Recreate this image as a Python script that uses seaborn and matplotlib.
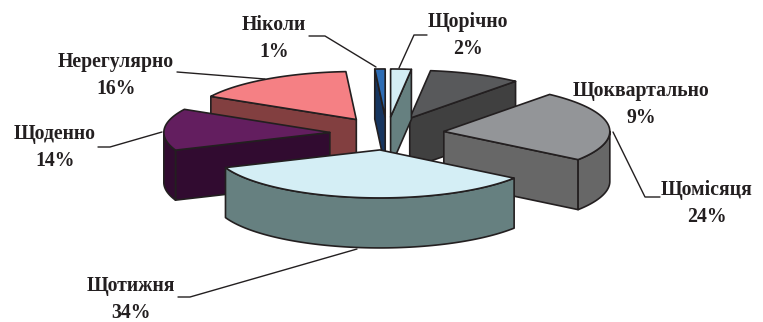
import numpy as np
import pandas as pd
import matplotlib
matplotlib.use("Agg")
import matplotlib.pyplot as plt
from matplotlib.patches import Polygon
import seaborn as sns

# Survey shares, clockwise from twelve o'clock
categories = ["Щорічно", "Щоквартально", "Щомісяця", "Щотижня", "Щоденно", "Нерегулярно", "Ніколи"]
shares = [2, 9, 24, 34, 14, 16, 1]
top_colors = ["#D4EEF5", "#58595B", "#939598", "#D4EEF5", "#631E5F", "#F58084", "#2E6DB5"]
wall_colors = ["#668080", "#404040", "#676767", "#668080", "#310B30", "#823F40", "#16355F"]

# Slices are painted back to front
paint_order = ["Нерегулярно", "Щоквартально", "Ніколи", "Щорічно", "Щоденно", "Щомісяця", "Щотижня"]

# Pie projection, in pixels of the canvas
CX, CY = 387, 133.5
RX, RY = 166, 48
DEPTH = 50
EXPLODE = 0.345
EDGE = "#231F20"

sns.set_theme(style="white")
plt.rcParams["font.family"] = ["Liberation Serif", "DejaVu Serif"]

df = pd.DataFrame({"category": categories, "share": shares,
                   "top": sns.color_palette(top_colors), "wall": sns.color_palette(wall_colors)})
df["end"] = df["share"].cumsum() / df["share"].sum() * 360
df["start"] = df["end"] - df["share"] / df["share"].sum() * 360

fig, ax = plt.subplots(figsize=(7.63, 3.22), dpi=100)
fig.subplots_adjust(0, 0, 1, 1)
ax.set_xlim(0, 763)
ax.set_ylim(322, 0)
ax.axis("off")


def rim(ox, oy, theta):
    t = np.radians(theta)
    return np.column_stack([ox + RX * np.sin(t), oy - RY * np.cos(t)])


def face(points, color, z):
    ax.add_patch(Polygon(points, closed=True, facecolor=color, edgecolor=EDGE,
                         linewidth=1.2, joinstyle="round", zorder=z))


for z, name in enumerate(paint_order):
    row = df[df["category"] == name].iloc[0]
    mid = np.radians((row["start"] + row["end"]) / 2)
    ox = CX + EXPLODE * RX * np.sin(mid)
    oy = CY - EXPLODE * RY * np.cos(mid)
    apex = np.array([[ox, oy]])
    drop = np.array([0, DEPTH])
    base = z * 10 + 2

    # Radial cut faces turned toward the viewer
    if np.sin(np.radians(row["end"])) > 1e-6:
        edge = rim(ox, oy, np.array([row["end"]]))
        face(np.vstack([apex, edge, edge + drop, apex + drop]), row["wall"], base)
    if -np.sin(np.radians(row["start"])) > 1e-6:
        edge = rim(ox, oy, np.array([row["start"]]))
        face(np.vstack([apex, edge, edge + drop, apex + drop]), row["wall"], base)

    # Outer wall along the front half of the rim
    lo, hi = max(row["start"], 90), min(row["end"], 270)
    if hi > lo:
        arc = rim(ox, oy, np.linspace(lo, hi, 80))
        face(np.vstack([arc, (arc + drop)[::-1]]), row["wall"], base + 1)

    # Top surface
    arc = rim(ox, oy, np.linspace(row["start"], row["end"], 80))
    face(np.vstack([apex, arc]), row["top"], base + 2)

# Labels: name on one line, percentage below
label_xy = {
    "Ніколи": (274, 25), "Щорічно": (468, 22), "Щоквартально": (641, 91),
    "Щомісяця": (707, 190), "Щотижня": (131, 286), "Щоденно": (55, 134),
    "Нерегулярно": (116, 62),
}
for name, share in zip(categories, shares):
    x, y = label_xy[name]
    ax.text(x, y, name, ha="center", va="center", fontsize=14.2, fontweight="bold",
            color="#231F20", zorder=100)
    ax.text(x, y + 27, f"{share}%", ha="center", va="center", fontsize=14.2,
            fontweight="bold", color="#231F20", zorder=100)

# Leader lines
leaders = [
    [(309, 36), (325, 36), (376, 67)],
    [(427, 35), (414, 35), (399, 68)],
    [(613, 132), (645, 197), (660, 197)],
    [(357, 249), (190, 297), (178, 297)],
    [(162, 132), (110, 147), (98, 147)],
    [(265, 79), (177, 72)],
]
for path in leaders:
    xs, ys = zip(*path)
    ax.plot(xs, ys, color=EDGE, linewidth=1.0, zorder=90)

fig.savefig("out.png", dpi=100, facecolor="white")
